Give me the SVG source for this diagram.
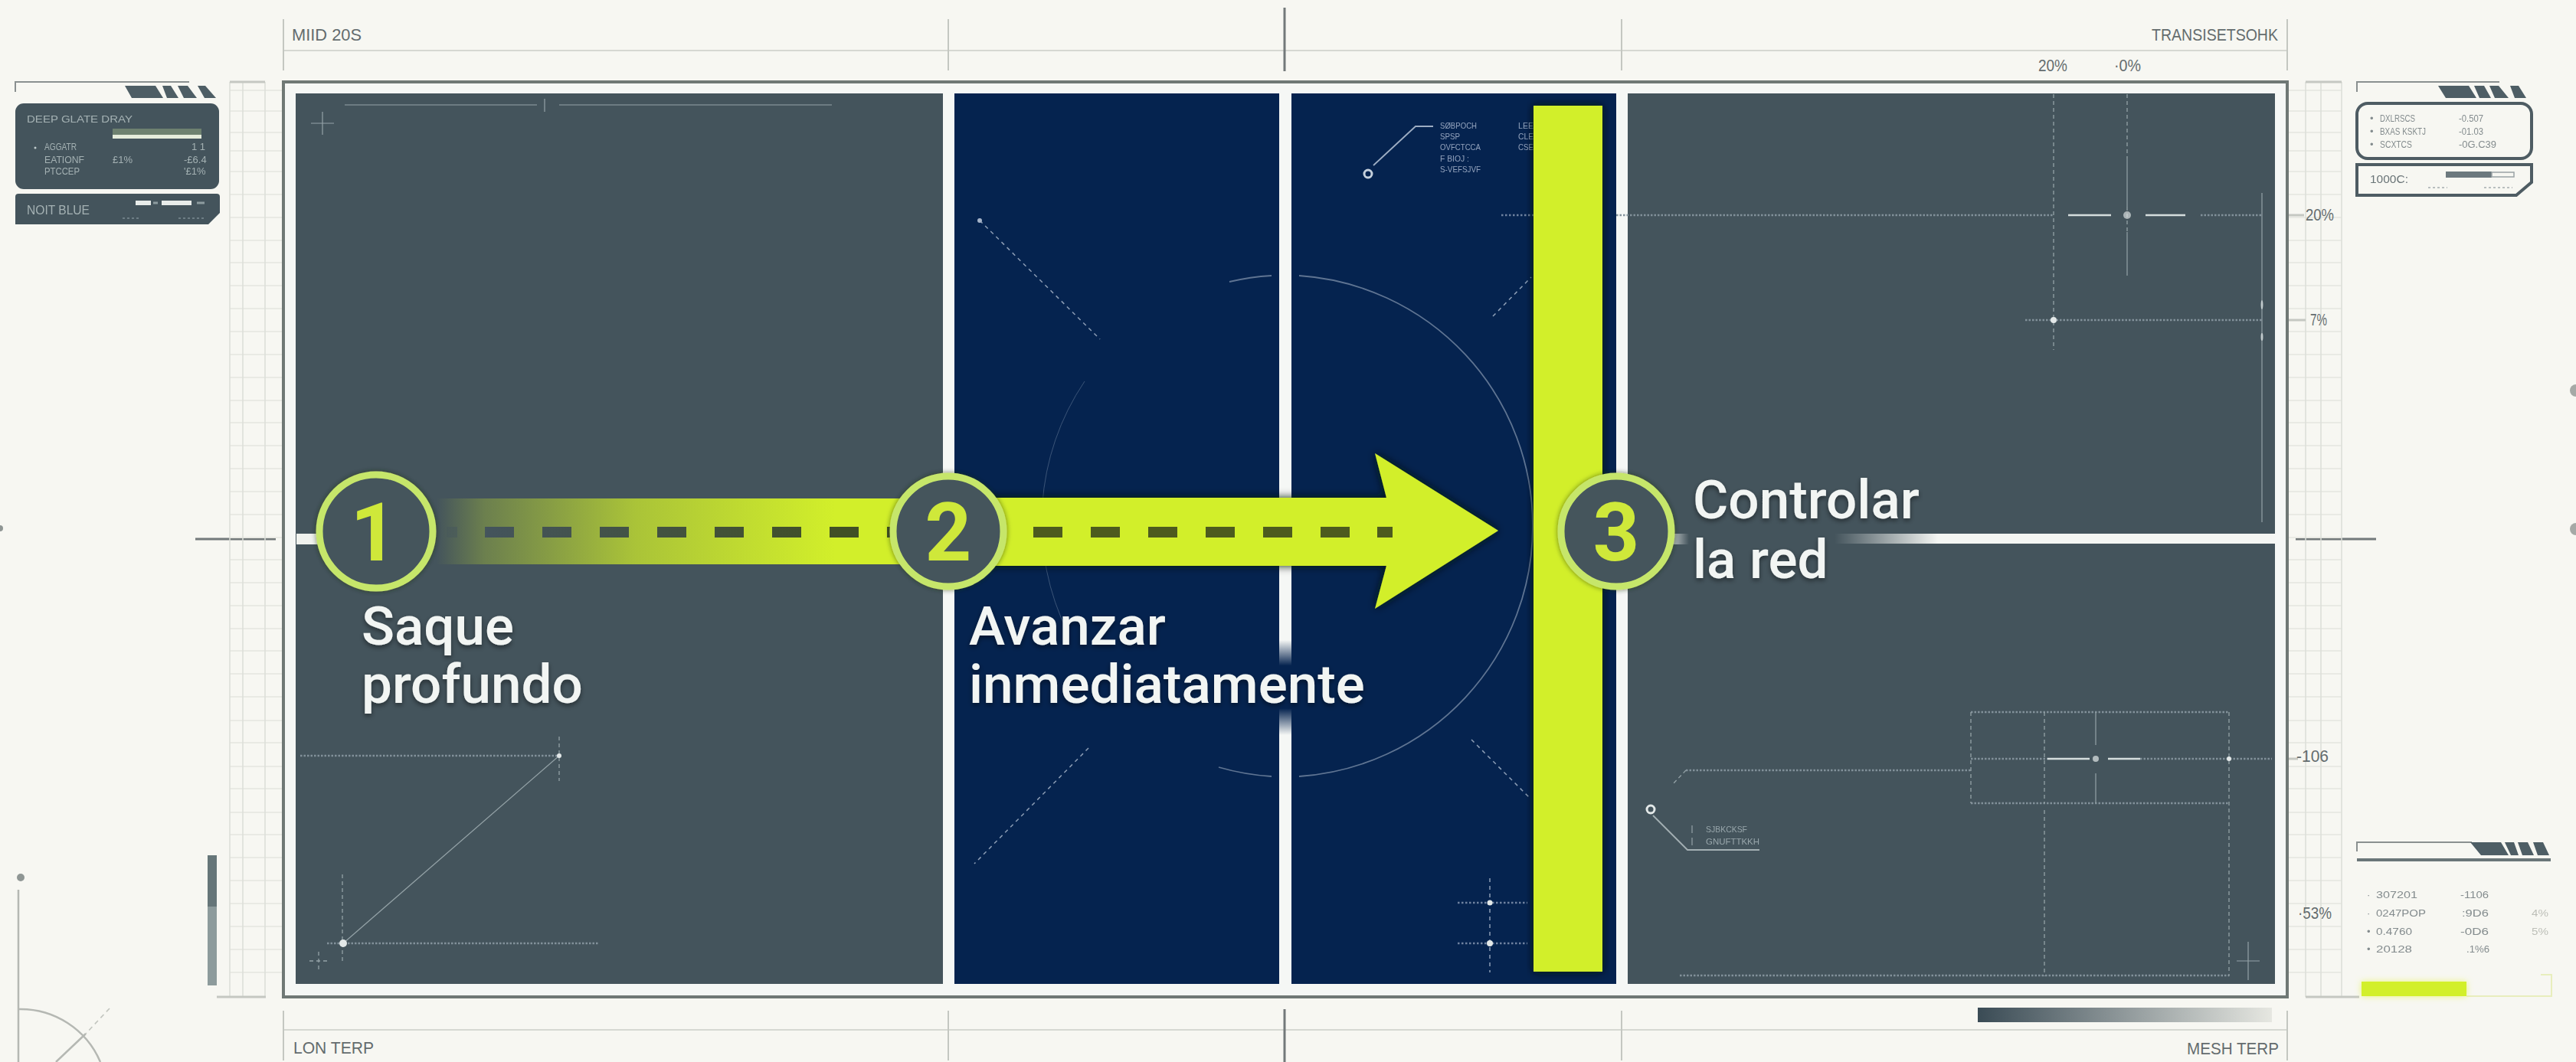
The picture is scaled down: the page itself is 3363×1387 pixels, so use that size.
<svg xmlns="http://www.w3.org/2000/svg" xmlns:xlink="http://www.w3.org/1999/xlink" width="3363" height="1387" viewBox="0 0 3363 1387">
<style>
.slate{fill:#44545c}.navy{fill:#05234f}
.hair{stroke:#d6d8d2;stroke-width:2;fill:none}
.tick{stroke:#c4c7c1;stroke-width:2;fill:none}
.tickd{stroke:#73797a;stroke-width:3;fill:none}
.grid{stroke:#e9eae4;stroke-width:2;fill:none}
.gridv{stroke:#dcded8;stroke-width:1.5;fill:none}
.s{stroke:#94a2a7;stroke-width:1.2;fill:none}
.sb{stroke:#d5dddd;stroke-width:2.5;fill:none}
.d{stroke:#94a2a7;stroke-width:1.3;stroke-dasharray:5 4;fill:none}
.dd{stroke:#82919a;stroke-width:2.5;stroke-dasharray:2.5 2;fill:none}
.nd{stroke:#8c9db5;stroke-width:1.5;stroke-dasharray:5 5;fill:none}
.ndd{stroke:#6f82a0;stroke-width:2.5;stroke-dasharray:2.5 2.5;fill:none}
.arc{stroke:#5f7492;fill:none}
.dot{fill:#e3e8e8}
.lab{font-family:Roboto,"Liberation Sans",sans-serif;font-weight:500;font-size:71px;fill:#f2f5f3;filter:url(#ts)}
.num{font-family:Roboto,"Liberation Sans",sans-serif;font-weight:700;font-size:106px;fill:#cfe83a;text-anchor:middle}
.hd{font-family:"Liberation Sans",Arial,sans-serif;font-size:22px;fill:#646c6e}
.mi{font-family:"Liberation Sans",Arial,sans-serif;font-size:13px;fill:#a4b1b3}
.md{font-family:"Liberation Sans",Arial,sans-serif;font-size:13px;fill:#848c8e}
.mn{font-family:"Liberation Sans",Arial,sans-serif;font-size:11px;fill:#93a3bd}
.ms{font-family:"Liberation Sans",Arial,sans-serif;font-size:11px;fill:#98a6ab}
.bl{filter:url(#soft)}
.par{fill:#4e5e65}
.ring{stroke:#c6e66b;stroke-width:9;fill:#44545c;filter:url(#rg)}
</style>
<defs>
<filter id="ts" x="-10%" y="-20%" width="120%" height="150%"><feDropShadow dx="0" dy="3" stdDeviation="3" flood-color="#000" flood-opacity=".45"/></filter>
<filter id="soft" x="-5%" y="-20%" width="110%" height="140%"><feGaussianBlur stdDeviation=".7"/></filter>
<filter id="rg" x="-20%" y="-20%" width="140%" height="140%"><feDropShadow dx="0" dy="0" stdDeviation="3" flood-color="#1c2a10" flood-opacity=".6"/></filter>
<filter id="gl" x="-10%" y="-20%" width="120%" height="140%"><feDropShadow dx="0" dy="0" stdDeviation="6" flood-color="#02140c" flood-opacity=".95"/></filter>
<filter id="yg" x="-10%" y="-50%" width="120%" height="200%"><feDropShadow dx="0" dy="0" stdDeviation="4" flood-color="#e6f25c" flood-opacity=".8"/></filter>
<linearGradient id="band" gradientUnits="userSpaceOnUse" x1="570" y1="0" x2="1090" y2="0"><stop offset="0" stop-color="#d2ef2a" stop-opacity="0"/><stop offset=".12" stop-color="#d2ef2a" stop-opacity=".28"/><stop offset=".5" stop-color="#d2ef2a" stop-opacity=".72"/><stop offset="1" stop-color="#d2ef2a"/></linearGradient>
<linearGradient id="dashfade" gradientUnits="userSpaceOnUse" x1="585" y1="0" x2="1100" y2="0"><stop offset="0" stop-color="#44545c" stop-opacity=".35"/><stop offset=".1" stop-color="#44545c"/><stop offset="1" stop-color="#415025"/></linearGradient>
<linearGradient id="netfade" gradientUnits="userSpaceOnUse" x1="2395" y1="0" x2="2530" y2="0"><stop offset="0" stop-color="#f4f6f3" stop-opacity="0"/><stop offset="1" stop-color="#f4f6f3"/></linearGradient>
<linearGradient id="netshort" gradientUnits="userSpaceOnUse" x1="2180" y1="0" x2="2205" y2="0"><stop offset="0" stop-color="#f4f6f3" stop-opacity=".8"/><stop offset="1" stop-color="#f4f6f3" stop-opacity="0"/></linearGradient>
<linearGradient id="hide" x1="0" y1="0" x2="0" y2="1"><stop offset="0" stop-color="#05234f" stop-opacity="0"/><stop offset=".27" stop-color="#05234f"/><stop offset=".72" stop-color="#05234f"/><stop offset="1" stop-color="#05234f" stop-opacity="0"/></linearGradient>
<linearGradient id="scale" x1="0" y1="0" x2="1" y2="0"><stop offset="0" stop-color="#3a4b55"/><stop offset="1" stop-color="#e6e7e1"/></linearGradient>
<path id="gridrows" d="M300 118H370M300 145H370M300 173H370M300 197H370M300 224H370M300 254H370M300 284H370M300 314H370M300 343H370M300 373H370M300 403H370M300 433H370M300 463H370M300 493H370M300 523H370M300 552H370M300 582H370M300 612H370M300 642H370M300 672H370M300 702H370M300 731H370M300 761H370M300 791H370M300 821H370M300 850H370M300 880H370M300 910H370M300 941H370M300 970H370M300 1001H370M300 1030H370M300 1061H370M300 1090H370M300 1120H370M300 1150H370M300 1180H370M300 1210H370M300 1240H370M300 1270H370"/>
</defs>

<rect id="paper" width="3363" height="1387" fill="#f7f7f2"/>

<g id="rulers">
<path class="hair" d="M370 66H2986M370 1345H2986"/>
<path class="tick" d="M370 25V92M1238 25V92M2117 25V92M2986 25V92M370 1320V1385M1238 1320V1385M2117 1320V1385M2986 1320V1385"/>
<path class="tickd" d="M1677 10V93M1677 1318V1387M255 704H360M2997 704H3102"/>
<use href="#gridrows" class="grid"/>
<use href="#gridrows" class="grid" transform="translate(2687 0)"/>
<path class="gridv" d="M300 107V1302M317 107V1302M346 107V1302M3057 107V1302M3030 107V1302M3010 107V1302"/>
<path stroke="#c5c8c2" stroke-width="3" fill="none" d="M300 107H346M283 1302H347M3010 107H3057M3010 1302H3080M2986 281H3008M2986 418H3010M2986 991H3000"/>
<text class="hd" x="381" y="53" textLength="91" lengthAdjust="spacingAndGlyphs">MIID 20S</text>
<text class="hd" x="2809" y="53" textLength="165" lengthAdjust="spacingAndGlyphs">TRANSISETSOHK</text>
<text class="hd" x="2661" y="93" textLength="38" lengthAdjust="spacingAndGlyphs">20%</text>
<text class="hd" x="2760" y="93" textLength="35" lengthAdjust="spacingAndGlyphs">·0%</text>
<text class="hd" x="3010" y="288" textLength="37" lengthAdjust="spacingAndGlyphs">20%</text>
<text class="hd" x="3016" y="425" textLength="22" lengthAdjust="spacingAndGlyphs">7%</text>
<text class="hd" x="2998" y="995" textLength="42" lengthAdjust="spacingAndGlyphs">-106</text>
<text class="hd" x="3000" y="1200" textLength="44" lengthAdjust="spacingAndGlyphs">·53%</text>
<text class="hd" x="383" y="1376" textLength="105" lengthAdjust="spacingAndGlyphs">LON TERP</text>
<text class="hd" x="2855" y="1377" textLength="120" lengthAdjust="spacingAndGlyphs">MESH TERP</text>
<rect x="2582" y="1316" width="384" height="19" fill="url(#scale)"/>
</g>

<g id="court">
<rect x="370" y="107" width="2616" height="1195" fill="#f5f7f5" stroke="#6f7875" stroke-width="4"/>
<rect class="slate" x="386" y="122" width="845" height="1163"/>
<rect class="navy" x="1246" y="122" width="424" height="1163"/>
<rect class="navy" x="1686" y="122" width="424" height="1163"/>
<rect class="slate" x="2125" y="122" width="845" height="1163"/>
</g>

<g id="court-markings">
<path class="s" d="M450 137H701M730 137H1086M711 129V146M421 146V176M406 161H436"/>
<path class="dd" d="M392 987H730M427 1232H781"/>
<path class="d" d="M730 962V1020M447 1142V1255M404 1255H428M416 1243V1268"/>
<path class="s" d="M730 987L448 1232"/>
<circle class="dot" cx="730" cy="987" r="3"/><circle class="dot" cx="448" cy="1232" r="5"/>
<path class="nd" d="M1279 288L1436 443M1421 977L1272 1128M1949 413L1999 362M1921 966L1998 1043M1945 1147V1270"/>
<circle cx="1279" cy="288" r="3" fill="#a5b3c8"/>
<path class="ndd" d="M1903 1179H1994M1903 1232H1994M1960 281H2002"/>
<circle class="dot" cx="1945" cy="1179" r="3.5"/><circle class="dot" cx="1945" cy="1232" r="4"/>
<path class="arc" stroke-width="1.8" d="M1605 368A327 327 0 0 1 1660 360M1696 360A327 327 0 0 1 2001 687A327 327 0 0 1 1696 1014M1660 1014A327 327 0 0 1 1591 1002"/>
<path class="arc" stroke-width="1" opacity=".6" d="M1416 498A327 327 0 0 0 1394 826"/>
<circle cx="1786" cy="227" r="5" fill="none" stroke="#c5d0dc" stroke-width="3"/>
<path stroke="#9dadc3" stroke-width="1.8" fill="none" d="M1793 216L1848 165H1871"/>
<g class="bl">
<text class="mn" x="1880" y="168" textLength="48" lengthAdjust="spacingAndGlyphs">SØBPOCH</text>
<text class="mn" x="1880" y="182" textLength="26" lengthAdjust="spacingAndGlyphs">SPSP</text>
<text class="mn" x="1880" y="196" textLength="53" lengthAdjust="spacingAndGlyphs">OVFCTCCA</text>
<text class="mn" x="1880" y="211" textLength="38" lengthAdjust="spacingAndGlyphs">F BIOJ :</text>
<text class="mn" x="1880" y="225" textLength="53" lengthAdjust="spacingAndGlyphs">S-VEFSJVF</text>
<text class="mn" x="1982" y="168" textLength="20" lengthAdjust="spacingAndGlyphs">LEE</text>
<text class="mn" x="1982" y="182" textLength="20" lengthAdjust="spacingAndGlyphs">CLE</text>
<text class="mn" x="1982" y="196" textLength="20" lengthAdjust="spacingAndGlyphs">CSE</text>
</g>
<path class="dd" d="M2110 281H2680M2873 281H2954M2644 418H2954M2573 991H2673M2794 991H2966M2201 1006H2573M2573 930H2910M2573 1049H2910M2193 1274H2910"/>
<path class="d" d="M2681 123V457M2777 123V207M2777 270V303M2573 930V1049M2910 930V1275M2669 930V1049M2669 1058V1275M2201 1006L2183 1025"/>
<path class="sb" d="M2700 281H2756M2801 281H2853M2673 991H2728M2752 991H2794"/>
<path class="s" stroke-width="2" d="M2777 207V270M2777 303V360M2953 252V682M2736 930V973M2736 1010V1049M2920 1255H2950M2935 1230V1280"/>
<circle class="dot" cx="2777" cy="281" r="5" opacity=".65"/><circle class="dot" cx="2681" cy="418" r="4"/>
<circle class="dot" cx="2736" cy="991" r="4" opacity=".7"/><circle class="dot" cx="2910" cy="991" r="3"/>
<ellipse class="dot" cx="2953" cy="398" rx="1.5" ry="6" opacity=".7"/><ellipse class="dot" cx="2953" cy="440" rx="1.5" ry="5" opacity=".7"/>
<circle cx="2155" cy="1057" r="5" fill="none" stroke="#e3e8e8" stroke-width="3"/>
<path stroke="#a3afb3" stroke-width="1.8" fill="none" d="M2158 1065L2203 1110H2297"/>
<path class="s" d="M2209 1078V1088M2209 1094V1104"/>
<g class="bl">
<text class="ms" x="2227" y="1087" textLength="54" lengthAdjust="spacingAndGlyphs">SJBKCKSF</text>
<text class="ms" x="2227" y="1103" textLength="70" lengthAdjust="spacingAndGlyphs">GNUFTTKKH</text>
</g>
<rect x="1670" y="836" width="16" height="124" fill="url(#hide)"/>
<rect x="387" y="697" width="30" height="14" fill="#f0f2ee"/>
<rect x="2183" y="697" width="24" height="14" fill="url(#netshort)"/>
<rect x="2395" y="697" width="575" height="13" fill="url(#netfade)"/>
</g>

<g id="connectors">
<rect id="band-step-1-2" x="570" y="651" width="608" height="86" fill="url(#band)"/>
<path id="dashes-step-1-2" fill="url(#dashfade)" d="M583 688h14v14h-14zM633 688h38v14h-38zM708 688h38v14h-38zM783 688h38v14h-38zM858 688h38v14h-38zM933 688h38v14h-38zM1008 688h38v14h-38zM1083 688h38v14h-38zM1158 688h8v14h-8z"/>
<path id="arrow-step-2-3" fill="#d2ef2a" filter="url(#gl)" d="M1290 650H1810L1795 592L1956 693L1795 795L1810 739H1290Z"/>
<path id="dashes-step-2-3" fill="#4d5b1e" d="M1349 688h38v14h-38zM1424 688h38v14h-38zM1499 688h38v14h-38zM1574 688h38v14h-38zM1649 688h38v14h-38zM1724 688h38v14h-38zM1798 688h20v14h-20z"/>
</g>

<rect id="net-bar" x="2002" y="138" width="90" height="1131" fill="#d2ef2a" filter="url(#gl)"/>

<g id="step-1">
<circle class="ring" cx="491" cy="694" r="74"/>
<text class="num" x="488" y="732">1</text>
<text class="lab" x="472" y="842">Saque</text>
<text class="lab" x="472" y="918">profundo</text>
</g>
<g id="step-2">
<circle class="ring" cx="1238" cy="694" r="72"/>
<text class="num" x="1238" y="732">2</text>
<text class="lab" x="1265" y="842">Avanzar</text>
<text class="lab" x="1265" y="918">inmediatamente</text>
</g>
<g id="step-3">
<circle class="ring" cx="2110" cy="694" r="72" stroke-width="7"/>
<text class="num" x="2110" y="732">3</text>
<text class="lab" x="2210" y="677">Controlar</text>
<text class="lab" x="2210" y="755">la red</text>
</g>

<g id="legend-left">
<path stroke="#8a9090" stroke-width="2" fill="none" d="M20 120V107H247"/>
<path class="par" d="M163 112H203L213 128H172ZM212 112H223L233 128H218ZM232 112H245L257 128H240ZM258 112H268L282 128H267Z"/>
<rect class="slate" x="20" y="135" width="266" height="112" rx="11"/>
<path class="slate" d="M20 257Q20 253 24 253H283Q287 253 287 257V278L272 293H20Z"/>
<g class="bl">
<text class="mi" x="35" y="160" textLength="138" lengthAdjust="spacingAndGlyphs">DEEP GLATE DRAY</text>
<rect x="147" y="168" width="116" height="8" fill="#6e8170"/>
<rect x="147" y="176" width="116" height="5" fill="#e5ecdc"/>
<text class="mi" x="58" y="196" textLength="42" lengthAdjust="spacingAndGlyphs">AGGATR</text>
<text class="mi" x="250" y="196">1 1</text>
<text class="mi" x="58" y="213" textLength="52" lengthAdjust="spacingAndGlyphs">EATIONF</text>
<text class="mi" x="147" y="213">£1%</text>
<text class="mi" x="240" y="213">-£6.4</text>
<text class="mi" x="58" y="228" textLength="46" lengthAdjust="spacingAndGlyphs">PTCCEP</text>
<text class="mi" x="240" y="228">'£1%</text>
<circle cx="46" cy="193" r="1.5" fill="#c0cbcc"/>
<text class="mi" style="font-size:16px" x="35" y="280" textLength="82" lengthAdjust="spacingAndGlyphs">NOIT BLUE</text>
<path stroke="#e8ecea" stroke-width="6" fill="none" d="M177 265H197M211 265H250"/>
<path stroke="#8d9b9f" stroke-width="3" fill="none" d="M200 265H206M257 265H267"/>
<path stroke="#6e7e85" stroke-width="2" stroke-dasharray="3 3" fill="none" d="M160 285H182M233 285H267"/>
</g>
<rect x="271" y="1117" width="12" height="67" fill="#667679"/>
<rect x="271" y="1184" width="12" height="103" fill="#8d9b9c"/>
<circle cx="27" cy="1146" r="5" fill="#8f9694"/>
<path stroke="#b5b8b3" stroke-width="2.5" fill="none" d="M24 1162V1387M24 1318A113 113 0 0 1 131 1387M112 1350L73 1387"/>
<path stroke="#c2c5bf" stroke-width="1.6" stroke-dasharray="6 5" fill="none" d="M143 1317L112 1350"/>
<circle cx="0" cy="690" r="4" fill="#8f9694"/>
</g>

<g id="legend-right">
<path stroke="#8a9090" stroke-width="2" fill="none" d="M3077 120V107H3263"/>
<path class="par" d="M3183 112H3223L3233 128H3193ZM3230 112H3243L3252 128H3237ZM3250 112H3262L3275 128H3257ZM3277 112H3288L3298 128H3283Z"/>
<rect x="3077" y="135" width="228" height="72" rx="14" fill="none" stroke="#4e5c63" stroke-width="4"/>
<path fill="none" stroke="#4e5c63" stroke-width="4" d="M3077 215H3305V238L3285 255H3077Z"/>
<g class="bl">
<text class="md" x="3094" y="159">•</text><text class="md" x="3107" y="159" textLength="46" lengthAdjust="spacingAndGlyphs">DXLRSCS</text><text class="md" x="3210" y="159" textLength="32" lengthAdjust="spacingAndGlyphs">-0.507</text>
<text class="md" x="3094" y="176">•</text><text class="md" x="3107" y="176" textLength="60" lengthAdjust="spacingAndGlyphs">BXAS KSKTJ</text><text class="md" x="3210" y="176" textLength="32" lengthAdjust="spacingAndGlyphs">-01.03</text>
<text class="md" x="3094" y="193">•</text><text class="md" x="3107" y="193" textLength="42" lengthAdjust="spacingAndGlyphs">SCXTCS</text><text class="md" x="3210" y="193" textLength="49" lengthAdjust="spacingAndGlyphs">-0G.C39</text>
<text class="md" style="font-size:15px;fill:#6a7477" x="3094" y="239" textLength="50" lengthAdjust="spacingAndGlyphs">1000C:</text>
<rect x="3193" y="224" width="60" height="8" fill="#6c797e"/>
<rect x="3253" y="225" width="29" height="6" fill="none" stroke="#9aa3a5" stroke-width="1.5"/>
<path stroke="#b9bfbf" stroke-width="2" stroke-dasharray="3 3" fill="none" d="M3170 245H3195M3243 245H3280"/>
</g>
<circle cx="3363" cy="510" r="8" fill="#a5a9a6"/>
<circle cx="3363" cy="691" r="8" fill="#a5a9a6"/>
</g>

<g id="legend-bottom">
<path stroke="#8a9090" stroke-width="2" fill="none" d="M3077 1112V1100H3227"/>
<path class="par" d="M3225 1100H3265L3275 1117H3239ZM3270 1100H3282L3288 1117H3278ZM3287 1100H3300L3308 1117H3293ZM3307 1100H3320L3328 1117H3313Z"/>
<path stroke="#6a7679" stroke-width="4" d="M3077 1123H3330"/>
<g class="bl">
<text class="md" x="3090" y="1173">·</text><text class="md" x="3102" y="1173" textLength="54" lengthAdjust="spacingAndGlyphs">307201</text><text class="md" x="3212" y="1173" textLength="37" lengthAdjust="spacingAndGlyphs">-1106</text>
<text class="md" x="3090" y="1197">·</text><text class="md" x="3102" y="1197" textLength="65" lengthAdjust="spacingAndGlyphs">0247POP</text><text class="md" x="3214" y="1197" textLength="35" lengthAdjust="spacingAndGlyphs">:9D6</text><text class="md" style="fill:#bdbfb8" x="3305" y="1197" textLength="22" lengthAdjust="spacingAndGlyphs">4%</text>
<text class="md" x="3090" y="1221">•</text><text class="md" x="3102" y="1221" textLength="47" lengthAdjust="spacingAndGlyphs">0.4760</text><text class="md" x="3212" y="1221" textLength="37" lengthAdjust="spacingAndGlyphs">-0D6</text><text class="md" style="fill:#bdbfb8" x="3305" y="1221" textLength="22" lengthAdjust="spacingAndGlyphs">5%</text>
<text class="md" x="3090" y="1244">•</text><text class="md" x="3102" y="1244" textLength="47" lengthAdjust="spacingAndGlyphs">20128</text><text class="md" x="3220" y="1244" textLength="30" lengthAdjust="spacingAndGlyphs">.1%6</text>
</g>
<path stroke="#e8eebd" stroke-width="2" fill="none" d="M3220 1301H3331V1273H3317"/>
<rect x="3083" y="1282" width="137" height="19" fill="#d2ef2a" filter="url(#yg)"/>
</g>
</svg>
